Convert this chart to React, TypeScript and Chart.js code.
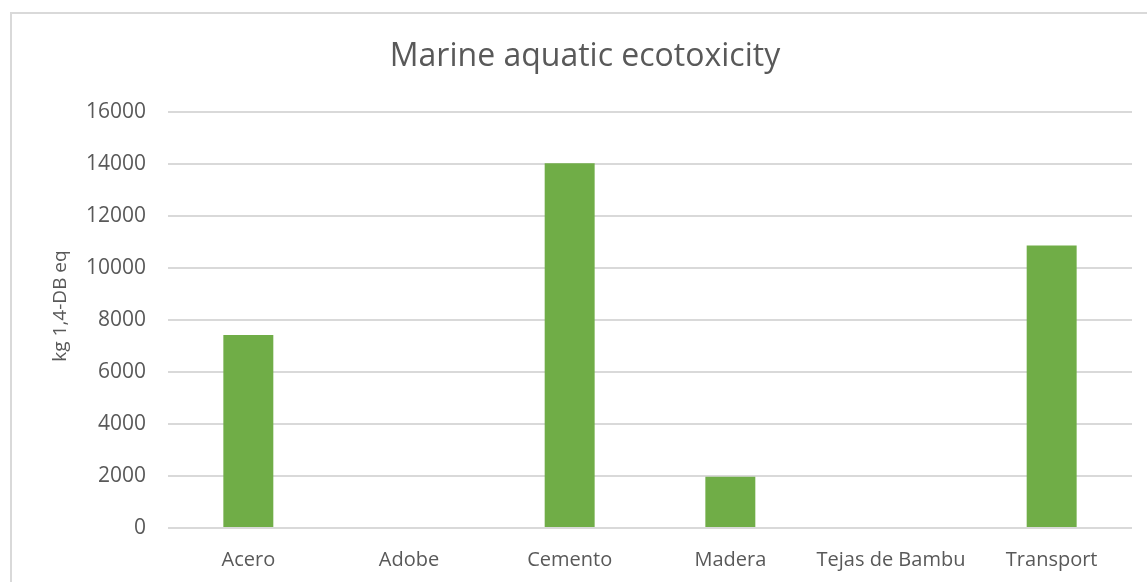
import React, { useEffect, useRef } from "react";
import { Chart, registerables } from "chart.js";

Chart.register(...registerables);

const categories = ["Acero", "Adobe", "Cemento", "Madera", "Tejas de Bambu", "Transport"];
const ecotoxicity = [7420, 0, 14030, 1970, 0, 10870];
const yTicks = [0, 2000, 4000, 6000, 8000, 10000, 12000, 14000, 16000];

const chartTitle = "Marine aquatic ecotoxicity";
const yAxisTitle = "kg 1,4-DB eq";

const TEXT = "#595959";
const GRID = "#d9d9d9";
const BAR = "#70ad47";
const FONT = "'Open Sans', sans-serif";

// Rotated y-axis caption, placed a little above the plot's vertical centre.
const yCaptionPlugin = {
  id: "yCaption",
  afterDraw(chart: any) {
    const { ctx, chartArea } = chart;
    const cy = (chartArea.top + chartArea.bottom) / 2 - 14;
    ctx.save();
    ctx.translate(61, cy);
    ctx.rotate(-Math.PI / 2);
    ctx.fillStyle = TEXT;
    ctx.font = `19px ${FONT}`;
    ctx.textAlign = "center";
    ctx.textBaseline = "middle";
    ctx.fillText(yAxisTitle, 0, 0);
    ctx.restore();
  },
};

export default function App() {
  const canvasRef = useRef<HTMLCanvasElement | null>(null);

  useEffect(() => {
    const canvas = canvasRef.current;
    if (!canvas) return;
    const chart = new Chart(canvas, {
      type: "bar",
      data: {
        labels: categories,
        datasets: [
          {
            label: chartTitle,
            data: ecotoxicity,
            backgroundColor: BAR,
            borderWidth: 0,
            categoryPercentage: 1,
            barPercentage: 0.311,
          },
        ],
      },
      options: {
        animation: false,
        responsive: false,
        layout: { padding: { left: 38, right: 15, top: 0, bottom: 0 } },
        plugins: {
          legend: { display: false },
          tooltip: { enabled: false },
          title: {
            display: true,
            text: chartTitle,
            color: TEXT,
            font: { family: FONT, size: 32, weight: "normal" },
            padding: { top: 38, bottom: 35.6 },
          },
        },
        scales: {
          x: {
            grid: { display: false, drawTicks: false },
            border: { display: false },
            ticks: {
              color: TEXT,
              font: { family: FONT, size: 20 },
              padding: 20,
              maxRotation: 0,
              autoSkip: false,
            },
            afterFit: (scale: any) => {
              scale.height = 54;
            },
          },
          y: {
            min: 0,
            max: 16000,
            afterBuildTicks: (scale: any) => {
              scale.ticks = yTicks.map((v) => ({ value: v }));
            },
            grid: { color: GRID, lineWidth: 2, drawTicks: false },
            border: { display: false },
            ticks: {
              color: TEXT,
              font: { family: FONT, size: 21 },
              padding: 22,
              callback: (value: any) => String(value),
            },
            afterFit: (scale: any) => {
              scale.width = 130;
            },
          },
        },
      },
      plugins: [yCaptionPlugin],
    });
    return () => chart.destroy();
  }, []);

  return (
    <div
      style={{
        position: "fixed",
        left: 0,
        top: 0,
        width: 1147,
        height: 582,
        overflow: "hidden",
        background: "#ffffff",
      }}
    >
      <div
        style={{
          position: "absolute",
          left: 10,
          top: 12,
          width: 1200,
          height: 700,
          border: `2px solid ${GRID}`,
          boxSizing: "border-box",
        }}
      />
      <canvas
        ref={canvasRef}
        width={1147}
        height={582}
        style={{ position: "absolute", left: 0, top: 0 }}
      />
    </div>
  );
}
